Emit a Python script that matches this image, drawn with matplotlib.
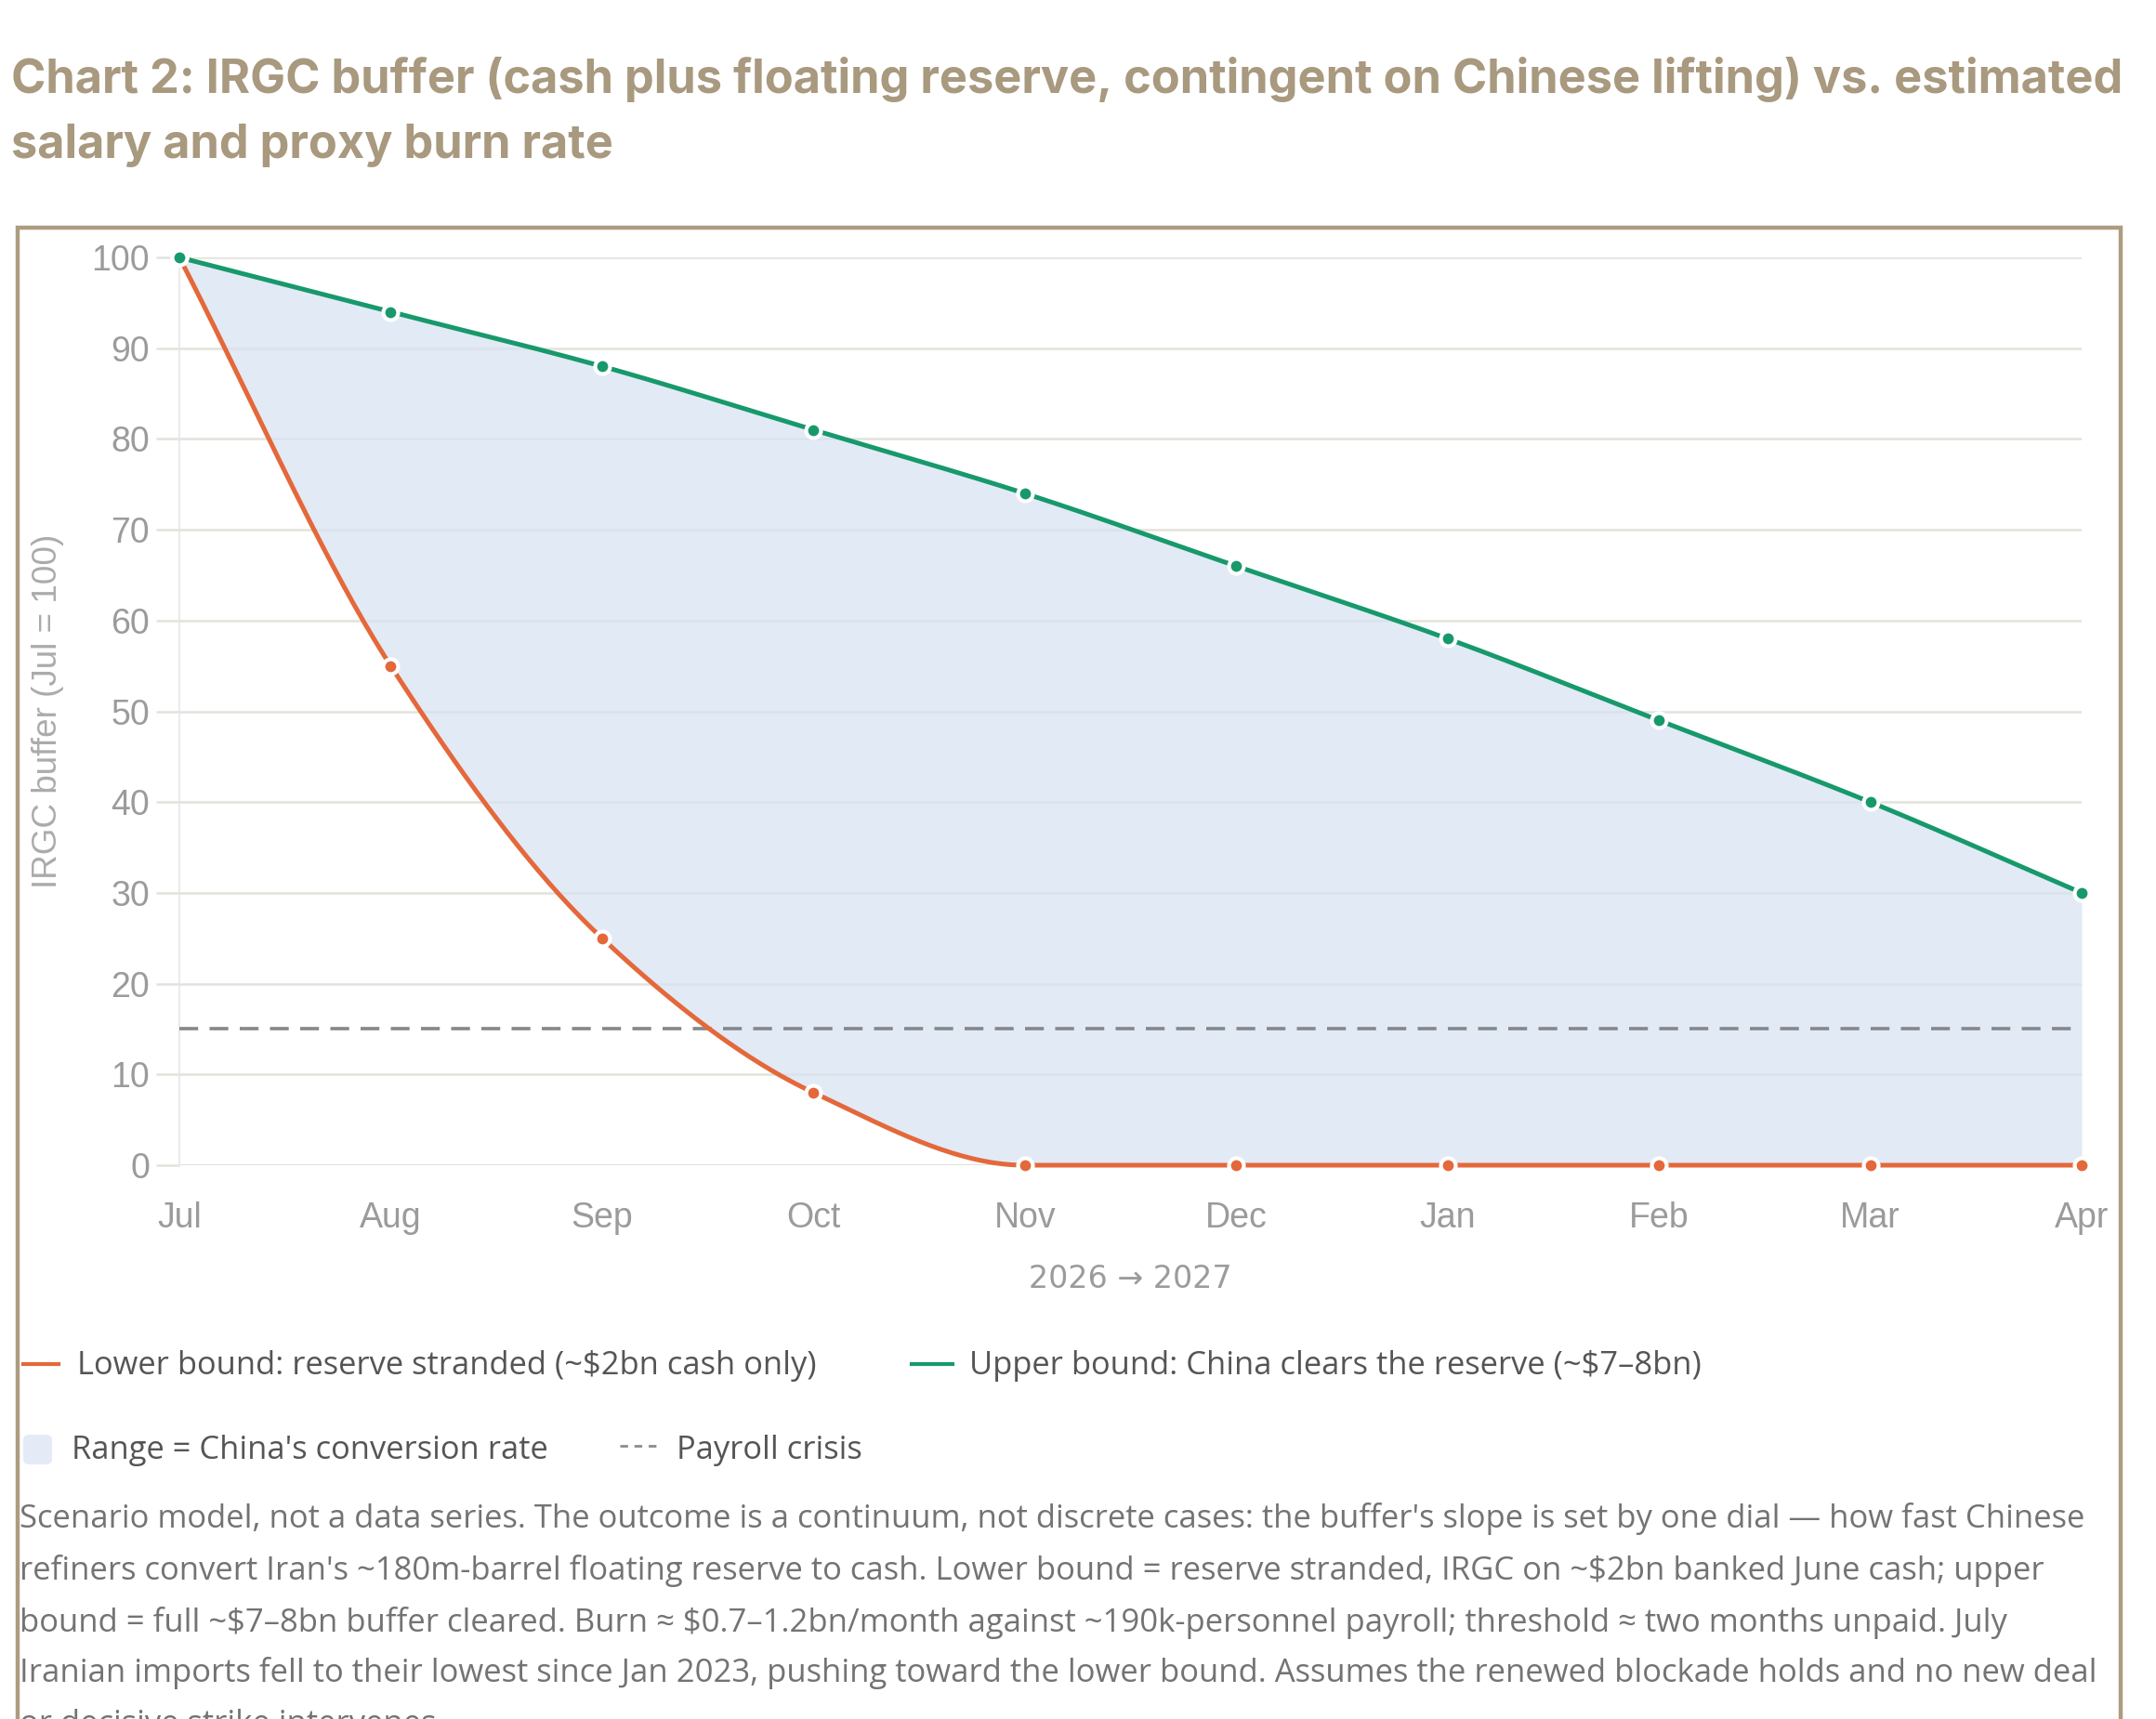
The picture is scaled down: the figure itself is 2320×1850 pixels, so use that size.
import numpy as np
import matplotlib
matplotlib.use("Agg")
import matplotlib.pyplot as plt
from matplotlib.lines import Line2D
from matplotlib.patches import Rectangle, FancyBboxPatch

# ---------------- data ----------------
months = ["Jul", "Aug", "Sep", "Oct", "Nov", "Dec", "Jan", "Feb", "Mar", "Apr"]
lower_bound = [100, 55, 25, 8, 0, 0, 0, 0, 0, 0]
upper_bound = [100, 94, 88, 81, 74, 66, 58, 49, 40, 30]
payroll_crisis = 15
y_ticks = [0, 10, 20, 30, 40, 50, 60, 70, 80, 90, 100]

title_lines = [
    "Chart 2: IRGC buffer (cash plus floating reserve, contingent on Chinese lifting) vs. estimated",
    "salary and proxy burn rate",
]
y_label = "IRGC buffer (Jul = 100)"
x_label = "2026 \u2192 2027"
legend_labels = [
    "Lower bound: reserve stranded (~$2bn cash only)",
    "Upper bound: China clears the reserve (~$7\u20138bn)",
    "Range = China's conversion rate",
    "Payroll crisis",
]
note_lines = [
    "Scenario model, not a data series. The outcome is a continuum, not discrete cases: the buffer's slope is set by one dial \u2014 how fast Chinese",
    "refiners convert Iran's ~180m-barrel floating reserve to cash. Lower bound = reserve stranded, IRGC on ~$2bn banked June cash; upper",
    "bound = full ~$7\u20138bn buffer cleared. Burn \u2248 $0.7\u20131.2bn/month against ~190k-personnel payroll; threshold \u2248 two months unpaid. July",
    "Iranian imports fell to their lowest since Jan 2023, pushing toward the lower bound. Assumes the renewed blockade holds and no new deal",
    "or decisive strike intervenes.",
]

# ---------------- style ----------------
W, H = 2320, 1850
ORANGE = "#e4683a"
GREEN = "#17996b"
FILL = "#d8e3f3"
GRID = "#e3e2dc"
TAN = "#ad9c81"
TICKC = "#9b9b9b"

fig = plt.figure(figsize=(W / 100, H / 100), dpi=100)
fig.patch.set_facecolor("white")


def fx(x):
    return x / W


def fy(y):
    return 1 - y / H


# axes placement (pixel coordinates of plot area)
x0, x1, ytop, ybot = 193, 2240, 277, 1254
ax = fig.add_axes([fx(x0), fy(ybot), fx(x1) - fx(x0), fy(ytop) - fy(ybot)])
ax.set_facecolor("none")

xs = np.arange(len(months), dtype=float)


def monotone(x, y, n=40):
    x = np.asarray(x, float)
    y = np.asarray(y, float)
    h = np.diff(x)
    d = np.diff(y) / h
    m = np.zeros_like(y)
    m[0], m[-1] = d[0], d[-1]
    for k in range(1, len(y) - 1):
        if d[k - 1] * d[k] <= 0:
            m[k] = 0.0
        else:
            w1 = 2 * h[k] + h[k - 1]
            w2 = h[k] + 2 * h[k - 1]
            m[k] = (w1 + w2) / (w1 / d[k - 1] + w2 / d[k])
    xx, yy = [], []
    for k in range(len(x) - 1):
        t = np.linspace(0, 1, n, endpoint=(k == len(x) - 2))
        h00 = 2 * t**3 - 3 * t**2 + 1
        h10 = t**3 - 2 * t**2 + t
        h01 = -2 * t**3 + 3 * t**2
        h11 = t**3 - t**2
        xx.append(x[k] + t * h[k])
        yy.append(h00 * y[k] + h10 * h[k] * m[k] + h01 * y[k + 1] + h11 * h[k] * m[k + 1])
    return np.concatenate(xx), np.concatenate(yy)


lx, ly = monotone(xs, lower_bound)
ux, uy = monotone(xs, upper_bound)

ax.set_xlim(0, len(months) - 1)
ax.set_ylim(0, 100)

# grid
ax.set_yticks(y_ticks)
ax.yaxis.grid(True, color=GRID, linewidth=1.8, zorder=0)
ax.xaxis.grid(False)
for s in ["top", "right", "bottom"]:
    ax.spines[s].set_visible(False)
ax.spines["left"].set_color("#e6e6e6")
ax.spines["left"].set_linewidth(1.2)
ax.axhline(0, color="#dcdcd6", linewidth=2.2, zorder=1)

ax.tick_params(axis="y", length=18, width=1.8, color=GRID, pad=5,
               labelsize=27, labelcolor=TICKC)
ax.tick_params(axis="x", length=0, pad=28, labelsize=27, labelcolor=TICKC)
ax.set_xticks(xs)
ax.set_xticklabels(months)
for lab in ax.get_xticklabels() + ax.get_yticklabels():
    lab.set_fontfamily("Liberation Sans")

# fill
ax.fill_between(lx, ly, uy, color=FILL, alpha=0.72, linewidth=0, zorder=2)

# payroll crisis line
ax.plot([xs[0], xs[-1]], [payroll_crisis, payroll_crisis], color="#85878a",
        linewidth=2.6, dashes=(5.6, 3.4), zorder=3)

# lines
ax.plot(lx, ly, color=ORANGE, linewidth=3.6, zorder=4, clip_on=False,
        solid_capstyle="round")
ax.plot(ux, uy, color=GREEN, linewidth=3.6, zorder=4, clip_on=False,
        solid_capstyle="round")
ax.plot(xs, lower_bound, linestyle="none", marker="o", markersize=11.5,
        markerfacecolor=ORANGE, markeredgecolor="white", markeredgewidth=3,
        zorder=5, clip_on=False)
ax.plot(xs, upper_bound, linestyle="none", marker="o", markersize=11.5,
        markerfacecolor=GREEN, markeredgecolor="white", markeredgewidth=3,
        zorder=5, clip_on=False)

# frame
frame = Rectangle((fx(19), fy(1900)), fx(2282) - fx(19), fy(245) - fy(1900),
                  transform=fig.transFigure, fill=False, edgecolor=TAN,
                  linewidth=3.2, zorder=0)
fig.add_artist(frame)

fig.canvas.draw()
renderer = fig.canvas.get_renderer()


def fit(t, target_w):
    bb = t.get_window_extent(renderer)
    t.set_fontsize(t.get_fontsize() * target_w / bb.width)


def fit_h(t, target_h):
    bb = t.get_window_extent(renderer)
    t.set_fontsize(t.get_fontsize() * target_h / bb.height)


# axis labels
yl = fig.text(fx(52), fy(765), y_label, rotation=90, ha="center", va="center",
              fontsize=26, color="#ababab", family="Liberation Sans",
              parse_math=False)
fit_h(yl, 382)
xl = fig.text(fx(1216), fy(1377), x_label, ha="center", va="center",
              fontsize=25, color=TICKC, family=["DejaVu Sans"],
              parse_math=False)
fit(xl, 218)

# title
TITLEC = "#a8997f"
t1 = fig.text(fx(12), fy(85), title_lines[0], ha="left", va="center",
              fontsize=33, fontweight="bold", color=TITLEC, family="Inter",
              parse_math=False)
fit(t1, 2275)
fs_title = t1.get_fontsize()
fig.text(fx(12), fy(156), title_lines[1], ha="left", va="center",
         fontsize=fs_title, fontweight="bold", color=TITLEC, family="Inter",
         parse_math=False)

# legend
LEGC = "#555555"
LFONT = "Open Sans"
row1, row2 = 1470, 1561
fig.add_artist(Line2D([fx(25), fx(63)], [fy(row1 - 2), fy(row1 - 2)], color=ORANGE,
                      linewidth=3, transform=fig.transFigure))
l1 = fig.text(fx(83), fy(row1), legend_labels[0], ha="left", va="center",
              fontsize=22, color=LEGC, family=LFONT, parse_math=False)
fit(l1, 794)
lfs = l1.get_fontsize()
fig.add_artist(Line2D([fx(981), fx(1025)], [fy(row1 - 2), fy(row1 - 2)], color=GREEN,
                      linewidth=3, transform=fig.transFigure))
fig.text(fx(1043), fy(row1), legend_labels[1], ha="left", va="center",
         fontsize=lfs, color=LEGC, family=LFONT, parse_math=False)
box = FancyBboxPatch((fx(25), fy(row2 + 15)), fx(56) - fx(25), fy(row2 - 17) - fy(row2 + 15),
                     boxstyle="round,pad=0,rounding_size=0.003",
                     transform=fig.transFigure, facecolor="#e4ebf6",
                     edgecolor="none")
fig.add_artist(box)
fig.text(fx(77), fy(row2), legend_labels[2], ha="left", va="center",
         fontsize=lfs, color=LEGC, family=LFONT, parse_math=False)
fig.add_artist(Line2D([fx(667), fx(710)], [fy(row2 - 5), fy(row2 - 5)], color="#8a8c8e",
                      linewidth=2, dashes=(3, 2.5), transform=fig.transFigure))
fig.text(fx(728), fy(row2), legend_labels[3], ha="left", va="center",
         fontsize=lfs, color=LEGC, family=LFONT, parse_math=False)

# note
NOTEC = "#737373"
ny = [1635, 1690, 1746, 1801, 1856]
n0 = fig.text(fx(21), fy(ny[0]), note_lines[0], ha="left", va="center",
              fontsize=22, color=NOTEC, family=LFONT, parse_math=False)
fit(n0, 2219)
nfs = n0.get_fontsize()
for line, yy in zip(note_lines[1:], ny[1:]):
    fig.text(fx(21), fy(yy), line, ha="left", va="center", fontsize=nfs,
             color=NOTEC, family=LFONT, parse_math=False)

fig.savefig("out.png", dpi=100, facecolor="white")
